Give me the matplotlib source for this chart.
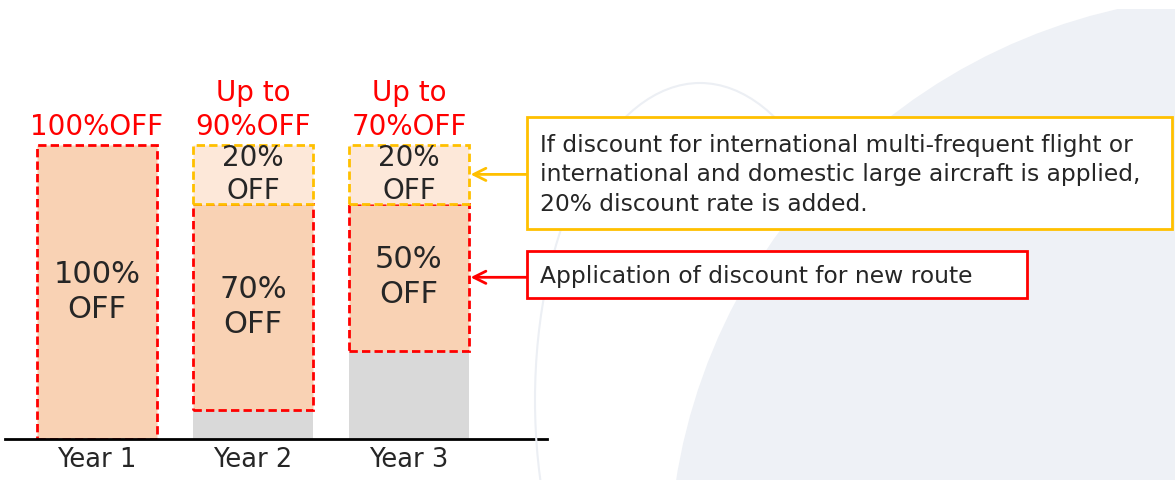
import matplotlib.pyplot as plt
import numpy as np
from matplotlib.patches import Ellipse, Rectangle

# data
years = ['Year 1', 'Year 2', 'Year 3']
paid = [0, 10, 30]          # grey part (not discounted)
new_route = [100, 70, 50]   # discount for new route
extra = [0, 20, 20]         # extra discount (multi-frequent / large aircraft)
top_labels = ['100%OFF', 'Up to\n90%OFF', 'Up to\n70%OFF']
route_labels = ['100%\nOFF', '70%\nOFF', '50%\nOFF']
extra_label = '20%\nOFF'
note_extra = ('If discount for international multi-frequent flight or\n'
              'international and domestic large aircraft is applied,\n'
              '20% discount rate is added.')
note_route = 'Application of discount for new route'

W, H = 1175, 480
fig = plt.figure(figsize=(W / 100, H / 100), dpi=100)

# background decoration (positions in pixels from top-left)
fig.patches.append(Ellipse((700 / W, 1 - 400 / H), 330 / W, 634 / H, transform=fig.transFigure,
                           facecolor='none', edgecolor='#eceff4', lw=1.5, zorder=0))
fig.patches.append(Ellipse((1244 / W, 1 - 570 / H), 1150 / W, 1150 / H, transform=fig.transFigure,
                           facecolor='#eef1f6', edgecolor='none', zorder=0.5))
fig.patches.append(Rectangle((0, 1 - 9 / H), 1, 9 / H, transform=fig.transFigure,
                             facecolor='white', edgecolor='none', zorder=0.6))

ax = fig.add_axes([5 / W, 41 / H, 542 / W, 411.6 / H])
ax.patch.set_alpha(0)
x = np.arange(len(years))
width = 0.77
paid = np.array(paid)
new_route = np.array(new_route)
extra = np.array(extra)

ax.bar(x, paid, width, color='#d9d9d9', zorder=1)
ax.bar(x, new_route, width, bottom=paid, facecolor='#f9d2b4', edgecolor='#ff0000',
       linestyle=(0, (3, 1.5)), linewidth=2, zorder=2)
m = extra > 0
ax.bar(x[m], extra[m], width, bottom=(paid + new_route)[m], facecolor='#fde8d9',
       edgecolor='#ffc000', linestyle=(0, (3, 1.5)), linewidth=2, zorder=3)

total = paid + new_route + extra
for i in range(len(years)):
    ax.text(x[i], total[i] + 1.5, top_labels[i], ha='center', va='bottom',
            fontsize=20, color='#ff0000', linespacing=1.25)
    ax.text(x[i], paid[i] + new_route[i] / 2, route_labels[i], ha='center', va='center',
            fontsize=22, color='#262626', linespacing=1.25, zorder=4)
    if extra[i] > 0:
        ax.text(x[i], paid[i] + new_route[i] + extra[i] / 2, extra_label, ha='center',
                va='center', fontsize=20, color='#262626', linespacing=1.25, zorder=4)

ax.set_xlim(-0.59, 2.885)
ax.set_ylim(0, 140)
ax.set_xticks(x)
ax.set_xticklabels(years, fontsize=18.5, color='#262626')
ax.tick_params(axis='x', length=0, pad=6)
ax.set_yticks([])
for s in ['top', 'left', 'right']:
    ax.spines[s].set_visible(False)
ax.spines['bottom'].set_linewidth(2)
ax.spines['bottom'].set_color('#000000')

# note boxes
fig.patches.append(Rectangle((527 / W, 1 - 229 / H), 645 / W, 112 / H, transform=fig.transFigure,
                             facecolor='white', edgecolor='#ffc000', lw=2, zorder=5))
fig.patches.append(Rectangle((527 / W, 1 - 298 / H), 500 / W, 47 / H, transform=fig.transFigure,
                             facecolor='white', edgecolor='#ff0000', lw=2, zorder=5))
fig.text(540 / W, 1 - 175 / H, note_extra, ha='left', va='center', fontsize=16.8,
         color='#262626', linespacing=1.38, zorder=6)
fig.text(540 / W, 1 - 276 / H, note_route, ha='left', va='center', fontsize=16.8,
         color='#262626', zorder=6)

# arrows from notes to bar 3
y_extra = paid[2] + new_route[2] + extra[2] / 2
y_route = paid[2] + new_route[2] / 2
for yv, col in [(y_extra, '#ffc000'), (y_route, '#ff0000')]:
    ax.annotate('', xy=(x[2] + width / 2 + 0.01, yv), xycoords='data',
                xytext=(527 / W, yv), textcoords=('figure fraction', 'data'),
                arrowprops=dict(arrowstyle='->', color=col, lw=2, mutation_scale=22,
                                shrinkA=0, shrinkB=0), annotation_clip=False)

fig.savefig('out.png', dpi=100)
